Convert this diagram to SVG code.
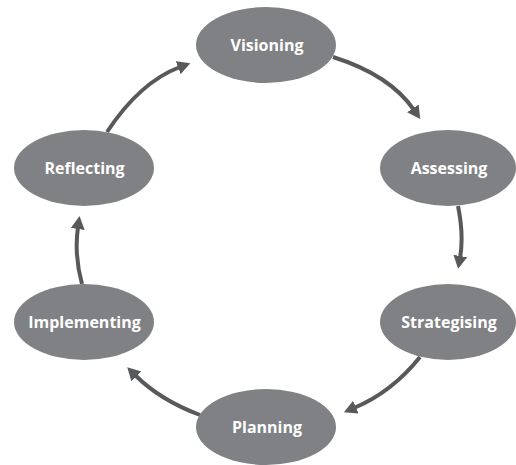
<svg xmlns="http://www.w3.org/2000/svg" width="516" height="465" viewBox="0 0 516 465">
<style>
.node ellipse{fill:#808184;}
.node text{fill:#ffffff;font-family:"Open Sans","Noto Sans",sans-serif;font-weight:bold;font-size:16px;text-anchor:middle;}
.conn path{fill:none;stroke:#58595b;stroke-width:4;marker-end:url(#ah);}
</style>
<defs>
<marker id="ah" markerUnits="userSpaceOnUse" markerWidth="16" markerHeight="16" refX="2" refY="7" orient="auto">
<path d="M0,0 L13,7 L0,14 z" fill="#58595b"/>
</marker>
</defs>
<rect width="516" height="465" fill="#ffffff"/>
<g class="conn">
<path d="M333,57 Q390,75 414,110"/>
<path d="M458,206 Q464,235 460,258"/>
<path d="M420,357 Q392,392 354,408"/>
<path d="M200,415 Q160,400 135,375"/>
<path d="M82,284 Q74,255 78,227"/>
<path d="M107,132 Q140,82 180,67"/>
</g>
<g id="visioning" class="node"><ellipse cx="266" cy="45" rx="70" ry="38"/><text x="267" y="51">Visioning</text></g>
<g id="assessing" class="node"><ellipse cx="448" cy="168" rx="68" ry="38"/><text x="449" y="174">Assessing</text></g>
<g id="strategising" class="node"><ellipse cx="448" cy="322" rx="68" ry="38"/><text x="449" y="328">Strategising</text></g>
<g id="planning" class="node"><ellipse cx="266" cy="427" rx="70" ry="38"/><text x="267" y="433">Planning</text></g>
<g id="implementing" class="node"><ellipse cx="84" cy="322" rx="70" ry="38"/><text x="84.5" y="328">Implementing</text></g>
<g id="reflecting" class="node"><ellipse cx="84" cy="168" rx="70" ry="38"/><text x="84.5" y="174">Reflecting</text></g>
</svg>
